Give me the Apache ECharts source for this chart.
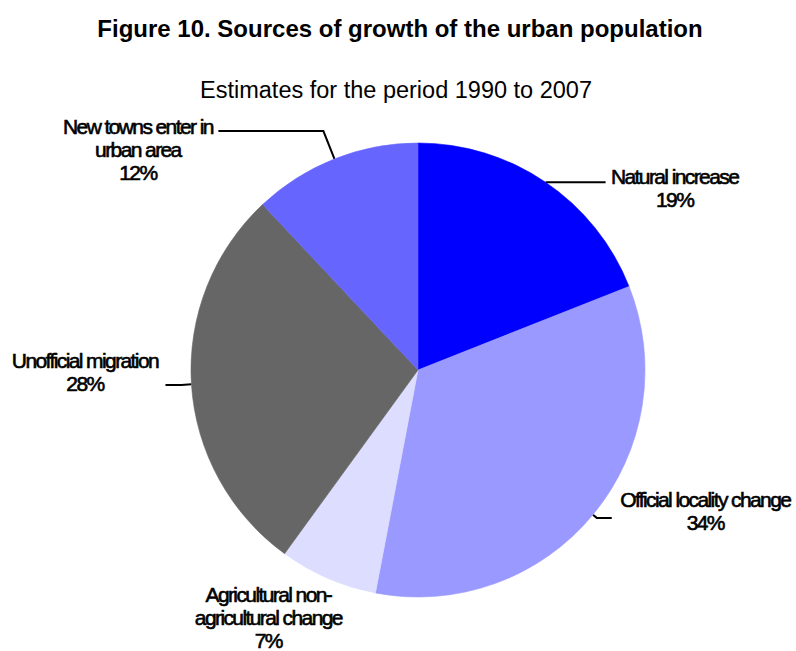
<!DOCTYPE html>
<html>
<head>
<meta charset="utf-8">
<script src="https://cdn.jsdelivr.net/npm/echarts@6/dist/echarts.min.js"></script>
<style>
  html, body { margin: 0; padding: 0; background: #fff; }
  #main { width: 796px; height: 651px; }
  /* slice labels in the original are set tight */
  #main text[style*="21px"] { letter-spacing: -1.6px; }
</style>
</head>
<body>
<div id="main"></div>
<script>
// data
var categories = ['Natural increase', 'Official locality change', 'Agricultural non-\nagricultural change', 'Unofficial migration', 'New towns enter in\nurban area'];
var shares = [19, 34, 7, 28, 12];
var colors = ['#0000ff', '#9999ff', '#ddddff', '#666666', '#6666ff'];

var labelFont = '"Liberation Sans", Arial, sans-serif';

// per slice label tuning: line lengths, block width, padding
var labelTweaks = [
  { len: 0, len2: 60, w: 128, pad: [12, 0, 0, 0], line: true },
  { len: 5, len2: 15, w: 177, pad: [0, 0, 14, 0], line: true },
  { len: 0, len2: 0, w: 143, pad: [0, 0, 0, 0], line: false },
  { len: 10, len2: 16, w: 151, pad: [0, 0, 26, 0], line: true },
  { len: 30, len2: 105, w: 151, pad: [36, 0, 0, 0], line: true }
];

var myChart = echarts.init(document.getElementById('main'), null, { renderer: 'svg' });

var pieData = categories.map(function (name, i) {
  var t = labelTweaks[i];
  return {
    name: name,
    value: shares[i],
    // border in the slice colour hides the anti-alias seams between slices
    itemStyle: { color: colors[i], borderColor: colors[i], borderWidth: 0.6 },
    label: {
      padding: t.pad,
      rich: {
        t: {
          width: t.w, align: 'center', fontSize: 21, lineHeight: 23,
          fontFamily: labelFont, color: '#000',
          textBorderColor: '#000', textBorderWidth: 0.6
        }
      }
    },
    labelLine: { show: t.line, length: t.len, length2: t.len2 }
  };
});

myChart.setOption({
  backgroundColor: '#fff',
  animation: false,
  title: [{
    text: 'Figure 10. Sources of growth of the urban population',
    left: 395,
    top: 11,
    textAlign: 'center',
    textStyle: { fontFamily: 'Arial, "Liberation Sans", sans-serif', fontSize: 24, fontWeight: 'bold', color: '#000' }
  }, {
    text: 'Estimates for the period 1990 to 2007',
    left: 391,
    top: 73,
    textAlign: 'center',
    textStyle: { fontFamily: 'Arial, "Liberation Sans", sans-serif', fontSize: 23.5, fontWeight: 'normal', color: '#000' }
  }],
  series: [{
    type: 'pie',
    center: [418, 370],
    radius: 227,
    startAngle: 90,
    clockwise: true,
    avoidLabelOverlap: false,
    emphasis: { disabled: true },
    label: {
      show: true,
      position: 'outside',
      distanceToLabelLine: 5,
      formatter: function (p) {
        var lines = p.name.split('\n');
        lines.push(p.value + '%');
        return lines.map(function (s) { return '{t|' + s + '}'; }).join('\n');
      }
    },
    labelLine: {
      smooth: false,
      lineStyle: { color: '#000', width: 2 }
    },
    labelLayout: function (params) {
      if (params.dataIndex === 2) {
        return { dx: 17, dy: 39 };
      }
    },
    data: pieData
  }]
});
</script>
</body>
</html>
